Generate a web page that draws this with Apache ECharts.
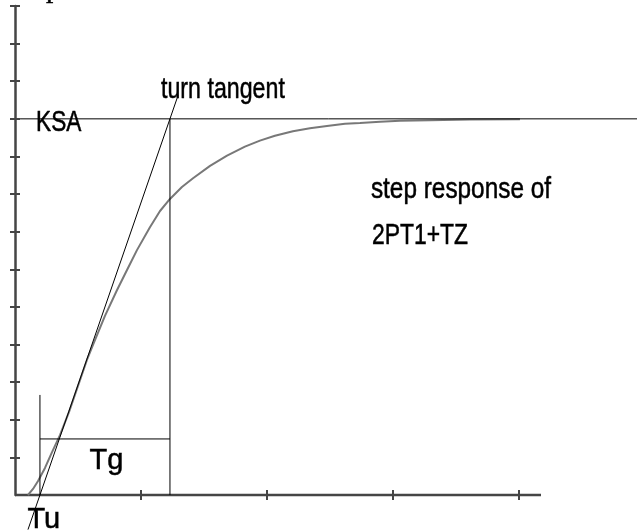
<!DOCTYPE html>
<html>
<head>
<meta charset="utf-8">
<script src="https://cdn.jsdelivr.net/npm/echarts@6/dist/echarts.min.js"></script>
<style>
  html, body { margin: 0; padding: 0; background: #fff; }
  #chart { width: 637px; height: 530px; }
</style>
</head>
<body>
<div id="chart"></div>
<script>
// ---- data (x in units of x-tick spacing, y normalized so KSA = 1) ----
const xTicks = [1, 2, 3, 4];
const yTicks = [0.1, 0.2, 0.3, 0.4, 0.5, 0.6, 0.7, 0.8, 0.9, 1.0, 1.1, 1.2, 1.3];
const xAxisEnd = 4.175;

const curveX = [0.103, 0.143, 0.183, 0.238, 0.294, 0.357, 0.429, 0.500, 0.571, 0.619, 0.714, 0.810, 0.889, 0.968, 1.071, 1.151, 1.230, 1.325, 1.413, 1.548, 1.683, 1.825, 1.944, 2.063, 2.206, 2.341, 2.476, 2.619, 2.738, 2.897, 3.056, 3.294, 3.611, 4.008];
const curveY = [0.000, 0.016, 0.037, 0.072, 0.114, 0.159, 0.221, 0.290, 0.359, 0.399, 0.476, 0.545, 0.598, 0.651, 0.712, 0.755, 0.787, 0.819, 0.842, 0.875, 0.902, 0.926, 0.942, 0.955, 0.967, 0.975, 0.981, 0.987, 0.989, 0.992, 0.995, 0.9965, 0.998, 0.999];

const ksaLevel = 1.0;
const ksaX = [0.04, 4.94];
const tangentX = [0.103, 1.294];
const tangentY = [-0.092, 1.062];
const tuX = 0.198;          // Tu: tangent crosses the time axis
const tgEndX = 1.230;       // tangent reaches KSA
const tuMarkerTop = 0.266;
const tgBarY = 0.149;

const labelTexts = ['turn tangent', 'KSA', 'step response of', '2PT1+TZ', 'Tg', 'Tu', 'p'];
const labelX = [1.159, 0.167, 2.825, 2.833, 0.591, 0.099, 0.246];
const labelY = [1.050, 0.963, 0.784, 0.662, 0.0625, -0.093, 1.318];

// ---- chart ----
const chart = echarts.init(document.getElementById('chart'), null, { renderer: 'canvas' });
const axisColor = '#454545';
const xMax = 4.937;

function pairs(xs, ys) { return xs.map((x, i) => [x, ys[i]]); }

function segSeries(data, color, width) {
  return {
    type: 'line', data: data, symbol: 'none', clip: false, silent: true,
    lineStyle: { color: color || '#000', width: width || 1 }, z: 3
  };
}

chart.setOption({
  animation: false,
  grid: { left: 15, top: 6, width: 622, bottom: 35, containLabel: false },
  xAxis: [
    {
      type: 'value', min: 0, max: xMax, interval: 1, position: 'bottom',
      axisLine: { show: false, onZero: false },
      axisTick: { show: true, inside: false, length: 5, customValues: xTicks, lineStyle: { color: axisColor, width: 2 } },
      axisLabel: { show: false }, splitLine: { show: false }
    },
    {
      type: 'value', min: 0, max: xMax, interval: 1, position: 'bottom',
      axisLine: { show: false, onZero: false },
      axisTick: { show: true, inside: true, length: 5, customValues: xTicks, lineStyle: { color: axisColor, width: 2 } },
      axisLabel: { show: false }, splitLine: { show: false }
    }
  ],
  yAxis: [
    {
      type: 'value', min: 0, max: 1.3, interval: 0.1, position: 'left',
      axisLine: { show: true, onZero: false, lineStyle: { color: axisColor, width: 2.5 } },
      axisTick: { show: true, inside: false, length: 5, customValues: yTicks, lineStyle: { color: axisColor, width: 2 } },
      axisLabel: { show: false }, splitLine: { show: false }
    },
    {
      type: 'value', min: 0, max: 1.3, interval: 0.1, position: 'left',
      axisLine: { show: false, onZero: false },
      axisTick: { show: true, inside: true, length: 5, customValues: yTicks, lineStyle: { color: axisColor, width: 2 } },
      axisLabel: { show: false }, splitLine: { show: false }
    }
  ],
  series: [
    // visible time axis (ends before the plot's right edge)
    Object.assign(segSeries([[0, 0], [xAxisEnd, 0]], axisColor, 2.5), { z: 1 }),
    {
      type: 'line', data: pairs(curveX, curveY), symbol: 'none', smooth: false,
      lineStyle: { color: '#787878', width: 2 }, z: 2, silent: true
    },
    segSeries(pairs(tangentX, tangentY)),
    segSeries([[ksaX[0], ksaLevel], [ksaX[1], ksaLevel]]),
    segSeries([[tgEndX, 0], [tgEndX, ksaLevel]]),
    segSeries([[tuX, tuMarkerTop], [tuX, 0]]),
    segSeries([[tuX, tgBarY], [tgEndX, tgBarY]])
  ]
});

// ---- text annotations, positioned through the axis scales ----
const fontSize = 29;
const labelScale = [0.8, 0.78, 0.84, 0.79, 1.0, 1.0, 1.0];
const labelFont = ['"Liberation Sans", Arial, sans-serif', '"Liberation Sans", Arial, sans-serif',
  '"Liberation Sans", Arial, sans-serif', '"Liberation Sans", Arial, sans-serif',
  '"Liberation Sans", Arial, sans-serif', '"Liberation Sans", Arial, sans-serif',
  '"Liberation Serif", serif'];
const graphics = labelTexts.map((t, i) => {
  const p = chart.convertToPixel({ xAxisIndex: 0, yAxisIndex: 0 }, [labelX[i], labelY[i]]);
  return {
    type: 'text', x: p[0], y: p[1] - 0.345 * fontSize, scaleX: labelScale[i], scaleY: 1, z: 10,
    style: {
      text: t, x: 0, y: 0, fill: '#000', stroke: '#000', lineWidth: 0.5,
      align: 'left', verticalAlign: 'middle',
      font: fontSize + 'px ' + labelFont[i]
    }
  };
});
chart.setOption({ graphic: graphics });
</script>
</body>
</html>
